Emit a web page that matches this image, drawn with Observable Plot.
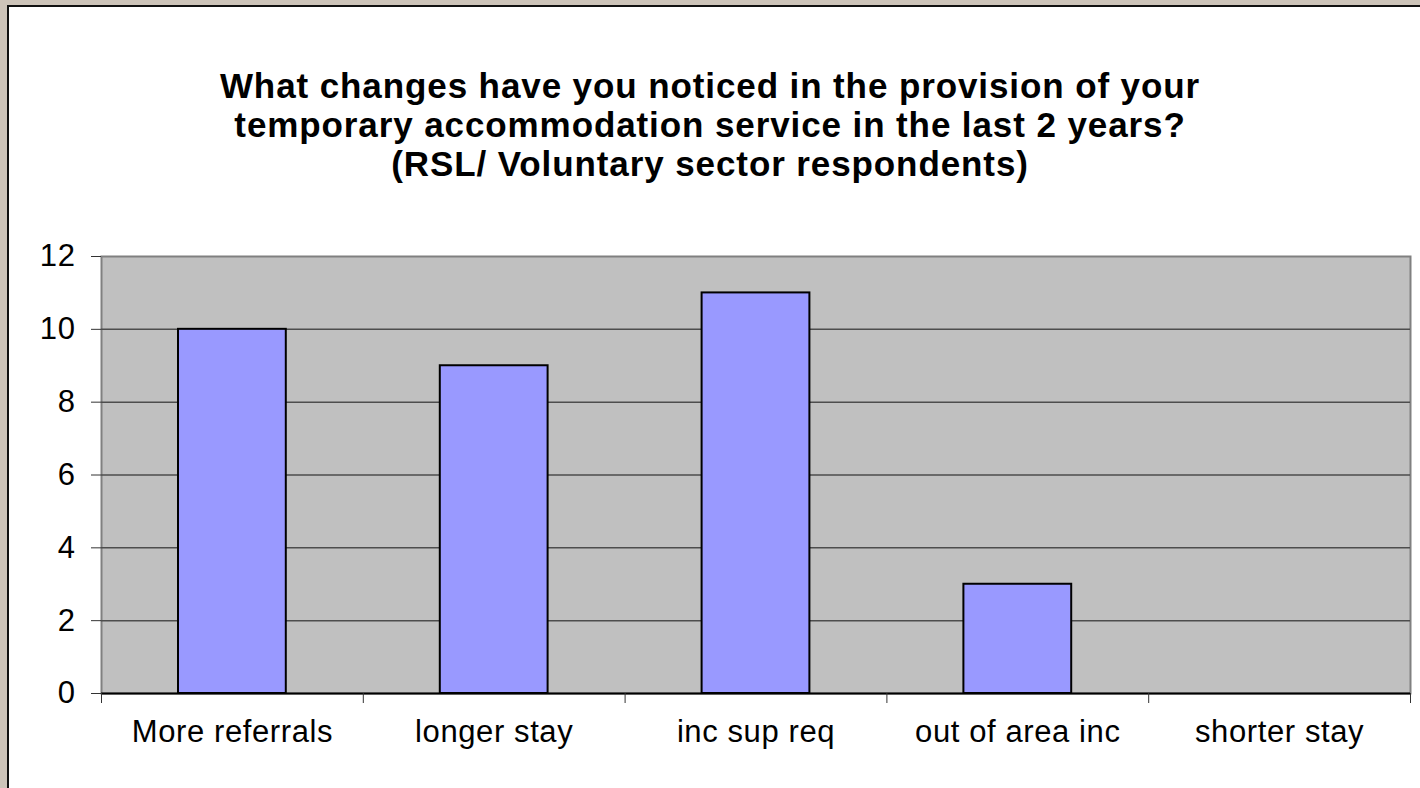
<!DOCTYPE html>
<html>
<head>
<meta charset="utf-8">
<script src="https://cdn.jsdelivr.net/npm/d3@7"></script>
<script src="https://cdn.jsdelivr.net/npm/@observablehq/plot@0.6"></script>
<style>
  html, body { margin: 0; padding: 0; width: 1420px; height: 788px; overflow: hidden; background: #cdc4b9; }
  #panel { position: absolute; left: 7px; top: 5px; width: 1500px; height: 900px; background: #fff;
           border-left: 2px solid #111; border-top: 2px solid #111; }
  #title { position: absolute; left: 0; top: 66px; width: 1420px; text-align: center;
           font-family: "Liberation Sans", Arial, sans-serif; font-weight: bold; font-size: 35px;
           line-height: 39px; letter-spacing: 0.9px; color: #000; }
  #chart { position: absolute; left: 0; top: 200px; }
  #chart svg text { letter-spacing: 0.6px; }
</style>
</head>
<body>
<div id="panel"></div>
<div id="title">What changes have you noticed in the provision of your<br>temporary accommodation service in the last 2 years?<br>(RSL/ Voluntary sector respondents)</div>
<div id="chart"></div>
<script>
const categories = ["More referrals", "longer stay", "inc sup req", "out of area inc", "shorter stay"];
const values = [10, 9, 11, 3, 0];
const yTicks = [0, 2, 4, 6, 8, 10, 12];
const xBoundaries = [0, 1, 2, 3, 4, 5];

const data = categories.map((c, i) => ({category: c, index: i, value: values[i]}));

const chart = Plot.plot({
  width: 1420,
  height: 588,
  marginLeft: 101,
  marginRight: 10,
  marginTop: 56,
  marginBottom: 95,
  style: {fontFamily: "'Liberation Sans', Arial, sans-serif", background: "transparent", color: "#000"},
  x: {domain: [0, 5], axis: null},
  y: {domain: [0, 12], axis: null},
  marks: [
    Plot.frame({fill: "#c0c0c0", stroke: "#808080", strokeWidth: 2}),
    Plot.ruleY(yTicks.filter(t => t > 0 && t < 12), {stroke: "#4d4d4d", strokeWidth: 1.5}),
    Plot.rectY(data.filter(d => d.value > 0), {
      x1: "index", x2: d => d.index + 1, y: "value",
      insetLeft: 77, insetRight: 77,
      fill: "#9999ff", stroke: "#000", strokeWidth: 2
    }),
    Plot.ruleY([0], {stroke: "#000", strokeWidth: 2}),
    Plot.axisY({ticks: yTicks, tickSize: 10, tickPadding: 16, fontSize: 31, anchor: "left", stroke: "#333", label: null}),
    Plot.axisX({ticks: xBoundaries, tickSize: 10, tickFormat: () => "", anchor: "bottom", stroke: "#333", label: null}),
    Plot.text(data, {x: d => d.index + 0.5, frameAnchor: "bottom", dy: 48, text: "category", fontSize: 31, fill: "#000"})
  ]
});
document.getElementById("chart").appendChild(chart);
</script>
</body>
</html>
